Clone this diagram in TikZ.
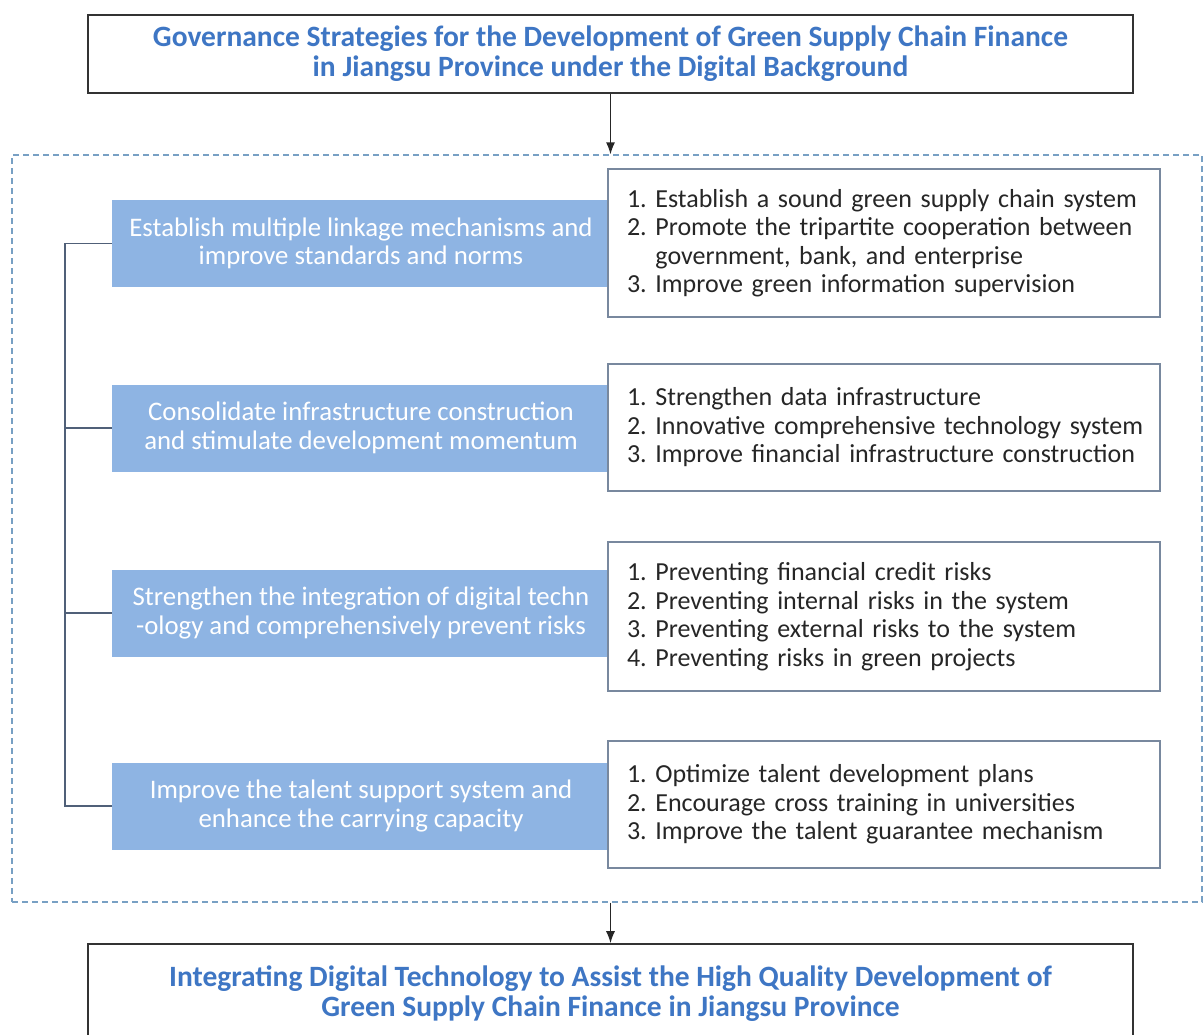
\documentclass[tikz,border=0pt]{standalone}
\usepackage{fontspec}
\setmainfont{Carlito}
\usetikzlibrary{positioning,arrows.meta}
\definecolor{titleblue}{RGB}{62,118,196}
\definecolor{boxblue}{RGB}{142,180,227}
\definecolor{listedge}{RGB}{120,136,158}
\definecolor{frameblue}{RGB}{120,160,196}
\definecolor{spine}{RGB}{80,96,120}
\newcommand{\itemline}[1]{\mbox{#1}}
\tikzset{
  headbox/.style={draw=black!80, line width=1.6pt, minimum width=1045pt, inner sep=0pt,
    align=center, text=titleblue, font=\fontsize{29.5}{30}\selectfont\bfseries},
  strategy/.style={fill=boxblue, minimum width=498pt, minimum height=87pt, inner sep=0pt,
    align=center, text=white, font=\fontsize{26.8}{28.5}\selectfont},
  listbox/.style={draw=listedge, line width=1.6pt, fill=white, minimum width=552pt, inner sep=0pt,
    align=left, text=black!85, font=\frenchspacing\fontsize{26}{28.5}\selectfont, text width=514pt},
  frame/.style={draw=frameblue, line width=1.2pt, dash pattern=on 6pt off 4pt, minimum width=1190pt, minimum height=747pt},
  conn/.style={draw=black!85, line width=1.4pt, -{Latex[length=12pt,width=9pt]}},
  bracket/.style={draw=spine, line width=1.4pt}
}
\begin{document}
\begin{tikzpicture}[x=1pt,y=-1pt]
\useasboundingbox (0,0) rectangle (1204,1034);
\fill[white] (0,0) rectangle (1204,1034);

\node[headbox, minimum height=78pt] (top) at (610.5,54)
  {Governance Strategies for the Development of Green Supply Chain Finance\\in Jiangsu Province under the Digital Background};

\node[frame] (frm) at (607,528.5) {};

\node[headbox, minimum height=100pt] (bot) at (610.5,994)
  {Integrating Digital Technology to Assist the High Quality Development of\\Green Supply Chain Finance in Jiangsu Province};

\draw[conn] (top.south) -- (top.south |- frm.north);
\draw[conn] (frm.south -| bot.north) -- (bot.north);

\node[strategy] (s1) at (361,243.5) {Establish multiple linkage mechanisms and\\improve standards and norms};
\node[strategy] (s2) at (361,428) {Consolidate infrastructure construction\\and stimulate development momentum};
\node[strategy] (s3) at (361,613) {Strengthen the integration of digital techn\\-ology and comprehensively prevent risks};
\node[strategy] (s4) at (361,806) {Improve the talent support system and\\enhance the carrying capacity};

\node[listbox, minimum height=148pt] (l1) at (884,243)
  {\itemline{1. Establish a sound green supply chain system}\\\itemline{2. Promote the tripartite cooperation between}\\\itemline{\phantom{2. }government, bank, and enterprise}\\\itemline{3. Improve green information supervision}};
\node[listbox, minimum height=127pt] (l2) at (884,427.5)
  {\itemline{1. Strengthen data infrastructure}\\\itemline{2. Innovative comprehensive technology system}\\\itemline{3. Improve financial infrastructure construction}};
\node[listbox, minimum height=149pt] (l3) at (884,616.5)
  {\itemline{1. Preventing financial credit risks}\\\itemline{2. Preventing internal risks in the system}\\\itemline{3. Preventing external risks to the system}\\\itemline{4. Preventing risks in green projects}};
\node[listbox, minimum height=127pt] (l4) at (884,804.5)
  {\itemline{1. Optimize talent development plans}\\\itemline{2. Encourage cross training in universities}\\\itemline{3. Improve the talent guarantee mechanism}};

\coordinate (sx) at (65,0);
\draw[bracket] (s1.west) -- (s1.west -| sx) -- (s4.west -| sx) -- (s4.west);
\draw[bracket] (s2.west) -- (s2.west -| sx);
\draw[bracket] (s3.west) -- (s3.west -| sx);
\end{tikzpicture}
\end{document}
